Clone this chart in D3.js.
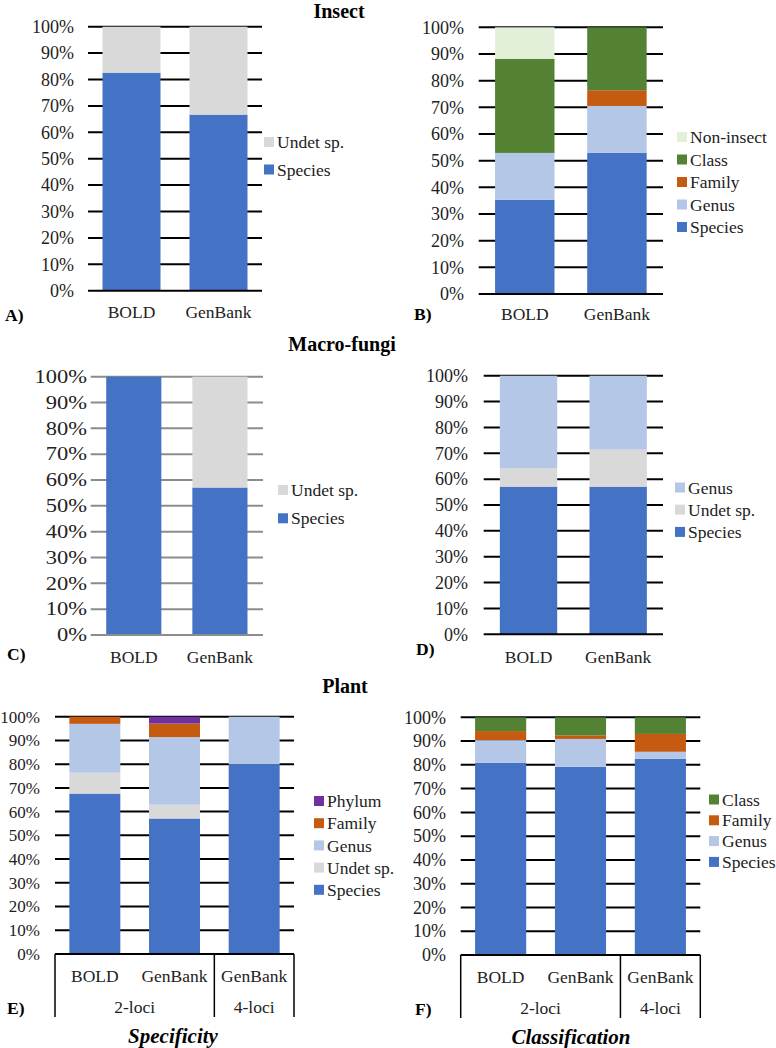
<!DOCTYPE html>
<html>
<head>
<meta charset="utf-8">
<script src="https://cdn.jsdelivr.net/npm/d3@7"></script>
<style>
  html, body { margin: 0; padding: 0; background: #fff; }
  svg { display: block; font-family: "Liberation Serif", "Times New Roman", serif; }
</style>
</head>
<body>
<div id="chart"></div>
<script>
// ---- data (percent of identified sequences) ----
const tickValues = [0, 10, 20, 30, 40, 50, 60, 70, 80, 90, 100];

const catsTwo = ['BOLD', 'GenBank'];
const catsPlant = ['BOLD', 'GenBank', 'GenBank'];
const plantGroups = ['2-loci', '4-loci'];
const plantGroupSize = [2, 1];

// A) Insect, specificity
const aSpecies = [82.6, 66.7];
const aUndet = [17.4, 33.3];

// B) Insect, classification
const bSpecies = [35.3, 52.9];
const bGenus = [17.6, 17.6];
const bFamily = [0, 5.9];
const bClass = [35.3, 23.6];
const bNonInsect = [11.8, 0];

// C) Macro-fungi, specificity
const cSpecies = [100, 57.1];
const cUndet = [0, 42.9];

// D) Macro-fungi, classification
const dSpecies = [57.1, 57.1];
const dUndet = [7.2, 14.3];
const dGenus = [35.7, 28.6];

// E) Plant, specificity
const eSpecies = [67.6, 57.1, 80.0];
const eUndet = [8.8, 5.8, 0];
const eGenus = [20.6, 28.5, 20.0];
const eFamily = [3.0, 5.7, 0];
const ePhylum = [0, 2.9, 0];

// F) Plant, classification
const fSpecies = [80.9, 79.2, 82.5];
const fGenus = [9.5, 11.7, 3.0];
const fFamily = [3.8, 1.5, 7.5];
const fClass = [5.8, 7.6, 7.0];

const colours = {
  'Species': '#4472C4',
  'Undet sp.': '#D9D9D9',
  'Genus': '#B4C7E7',
  'Family': '#C55A11',
  'Class': '#548235',
  'Non-insect': '#E2F0D9',
  'Phylum': '#7030A0',
};

const width = 776;
const height = 1048;

const svg = d3.select('#chart').append('svg')
    .attr('width', width)
    .attr('height', height)
    .attr('viewBox', `0 0 ${width} ${height}`);

function drawPanel(cfg) {
  const g = svg.append('g');
  const n = cfg.cats.length;

  const x = d3.scaleBand()
      .domain(d3.range(n))
      .range([cfg.x0, cfg.x1])
      .paddingInner(cfg.pad)
      .paddingOuter(cfg.pad / 2);

  const y = d3.scaleLinear()
      .domain([0, 100])
      .range([cfg.yb, cfg.yt]);

  // gridlines (behind the bars)
  g.append('g').selectAll('line')
      .data(tickValues.filter(d => d > 0))
    .join('line')
      .attr('x1', cfg.x0)
      .attr('x2', cfg.x1)
      .attr('y1', d => y(d))
      .attr('y2', d => y(d))
      .attr('stroke', cfg.grid || '#000')
      .attr('stroke-width', 2);

  // stacked bars
  const rows = cfg.cats.map((c, i) => {
    const r = {};
    cfg.series.forEach(s => { r[s.name] = s.values[i]; });
    return r;
  });
  const stacked = d3.stack().keys(cfg.series.map(s => s.name))(rows);

  g.append('g').selectAll('g')
      .data(stacked)
    .join('g')
      .attr('fill', d => colours[d.key])
    .selectAll('rect')
      .data(d => d.map((v, i) => ({ v, i })))
    .join('rect')
      .attr('x', d => x(d.i))
      .attr('width', x.bandwidth())
      .attr('y', d => y(d.v[1]))
      .attr('height', d => Math.max(0, y(d.v[0]) - y(d.v[1])));

  // zero line
  g.append('line')
      .attr('x1', cfg.x0)
      .attr('x2', cfg.x1)
      .attr('y1', y(0))
      .attr('y2', y(0))
      .attr('stroke', cfg.grid || '#000')
      .attr('stroke-width', 2);

  // y tick labels
  const axis = g.append('g')
      .attr('transform', `translate(${cfg.tickX},0)`)
      .call(d3.axisLeft(y).tickValues(tickValues).tickSize(0).tickPadding(0).tickFormat(d => d + '%'));
  axis.select('.domain').remove();
  axis.attr('font-family', null).attr('font-size', null);
  axis.selectAll('text')
      .attr('font-size', cfg.tickFont || 18)
      .attr('fill', '#222')
      .attr('transform', cfg.tickStretch ? `scale(${cfg.tickStretch},1)` : null);

  // category labels
  g.append('g').selectAll('text')
      .data(cfg.cats)
    .join('text')
      .attr('x', (d, i) => x(i) + x.bandwidth() / 2)
      .attr('y', cfg.catY)
      .attr('text-anchor', 'middle')
      .attr('font-size', 17.5)
      .attr('fill', '#222')
      .text(d => d);

  // grouped category box (plant panels)
  if (cfg.groups) {
    const step = x.step();
    const edges = [0];
    cfg.groupSize.forEach(s => edges.push(edges[edges.length - 1] + s));
    g.append('g').selectAll('line')
        .data(edges)
      .join('line')
        .attr('x1', d => cfg.x0 + d * step)
        .attr('x2', d => cfg.x0 + d * step)
        .attr('y1', y(0))
        .attr('y2', cfg.boxBottom)
        .attr('stroke', '#000')
        .attr('stroke-width', 1.5);
    g.append('g').selectAll('text')
        .data(cfg.groups)
      .join('text')
        .attr('x', (d, i) => cfg.x0 + (edges[i] + edges[i + 1]) / 2 * step)
        .attr('y', cfg.groupY)
        .attr('text-anchor', 'middle')
        .attr('font-size', 17.5)
        .attr('fill', '#222')
        .text(d => d);
    g.append('text')
        .attr('x', cfg.axisTitleX)
        .attr('y', cfg.axisTitleY)
        .attr('text-anchor', 'middle')
        .attr('font-size', 21)
        .attr('font-weight', 'bold')
        .attr('font-style', 'italic')
        .text(cfg.axisTitle);
  }

  // legend, top of stack first
  const legend = g.append('g').selectAll('g')
      .data(cfg.series.slice().reverse())
    .join('g')
      .attr('transform', (d, i) => `translate(${cfg.legX},${cfg.legY + i * cfg.legStep})`);
  legend.append('rect')
      .attr('x', 0)
      .attr('y', -5)
      .attr('width', 10)
      .attr('height', 10)
      .attr('fill', d => colours[d.name]);
  legend.append('text')
      .attr('x', 13)
      .attr('dy', '0.35em')
      .attr('font-size', 17.5)
      .attr('fill', '#222')
      .text(d => d.name);

  // panel letter
  g.append('text')
      .attr('x', cfg.letterX)
      .attr('y', cfg.letterY)
      .attr('font-size', 17.5)
      .attr('font-weight', 'bold')
      .text(cfg.letter);
}

// section titles
[['Insect', 339, 18], ['Macro-fungi', 342, 351], ['Plant', 345, 693]].forEach(([t, tx, ty]) => {
  svg.append('text')
      .attr('x', tx)
      .attr('y', ty)
      .attr('text-anchor', 'middle')
      .attr('font-size', 20)
      .attr('font-weight', 'bold')
      .text(t);
});

drawPanel({
  letter: 'A)', letterX: 5, letterY: 321,
  cats: catsTwo, x0: 88, x1: 262, yt: 26.7, yb: 290.7, pad: 1 / 3,
  tickX: 74, catY: 318,
  series: [{ name: 'Species', values: aSpecies }, { name: 'Undet sp.', values: aUndet }],
  legX: 264, legY: 142, legStep: 27.5,
});

drawPanel({
  letter: 'B)', letterX: 414, letterY: 320,
  cats: catsTwo, x0: 478.7, x1: 663, yt: 27.3, yb: 294, pad: 0.355,
  tickX: 464, catY: 320,
  series: [
    { name: 'Species', values: bSpecies },
    { name: 'Genus', values: bGenus },
    { name: 'Family', values: bFamily },
    { name: 'Class', values: bClass },
    { name: 'Non-insect', values: bNonInsect },
  ],
  legX: 677, legY: 137, legStep: 22.5,
});

drawPanel({
  letter: 'C)', letterX: 7, letterY: 660,
  cats: catsTwo, x0: 90.7, x1: 263, yt: 376.7, yb: 635, pad: 0.36, grid: '#8c8c8c',
  tickX: 87, tickStretch: 1.25, catY: 663,
  series: [{ name: 'Species', values: cSpecies }, { name: 'Undet sp.', values: cUndet }],
  legX: 278, legY: 490, legStep: 28.3,
});

drawPanel({
  letter: 'D)', letterX: 416, letterY: 655,
  cats: catsTwo, x0: 483.7, x1: 663, yt: 375.7, yb: 634.3, pad: 0.36,
  tickX: 468, catY: 663,
  series: [
    { name: 'Species', values: dSpecies },
    { name: 'Undet sp.', values: dUndet },
    { name: 'Genus', values: dGenus },
  ],
  legX: 675, legY: 487.5, legStep: 22.2,
});

drawPanel({
  letter: 'E)', letterX: 7, letterY: 1014,
  cats: catsPlant, x0: 55, x1: 294, yt: 716.7, yb: 954, pad: 0.36,
  tickX: 40, tickFont: 17, catY: 982,
  groups: plantGroups, groupSize: plantGroupSize, groupY: 1013, boxBottom: 1017,
  axisTitle: 'Specificity', axisTitleX: 173, axisTitleY: 1043,
  series: [
    { name: 'Species', values: eSpecies },
    { name: 'Undet sp.', values: eUndet },
    { name: 'Genus', values: eGenus },
    { name: 'Family', values: eFamily },
    { name: 'Phylum', values: ePhylum },
  ],
  legX: 314, legY: 801, legStep: 22.2,
});

drawPanel({
  letter: 'F)', letterX: 415, letterY: 1015,
  cats: catsPlant, x0: 460.7, x1: 700.3, yt: 717.3, yb: 955, pad: 0.36,
  tickX: 446, catY: 983,
  groups: plantGroups, groupSize: plantGroupSize, groupY: 1013.5, boxBottom: 1018,
  axisTitle: 'Classification', axisTitleX: 571, axisTitleY: 1043.5,
  series: [
    { name: 'Species', values: fSpecies },
    { name: 'Genus', values: fGenus },
    { name: 'Family', values: fFamily },
    { name: 'Class', values: fClass },
  ],
  legX: 709, legY: 799.5, legStep: 20.8,
});
</script>
</body>
</html>
